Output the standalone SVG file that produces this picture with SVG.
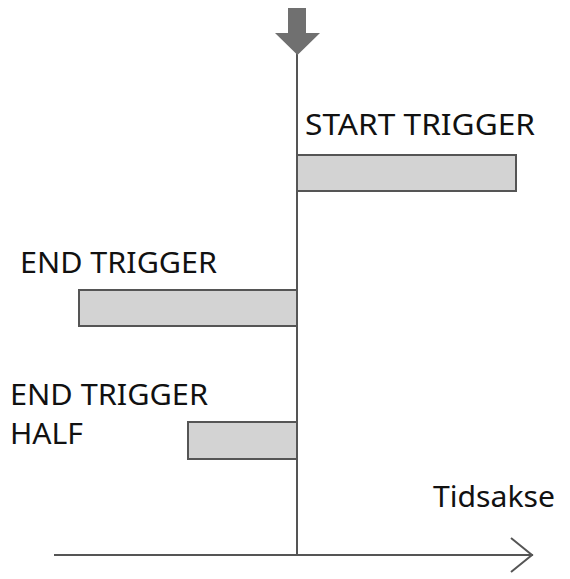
<svg xmlns="http://www.w3.org/2000/svg" width="570" height="579" viewBox="0 0 570 579">
<style>
.ln{stroke:#555;stroke-width:2;fill:none}
.bar{fill:#d3d3d3;stroke:#555;stroke-width:2}
.t{font-family:"Noto Sans","Open Sans",sans-serif;font-size:29px;fill:#111}
</style>
<rect width="570" height="579" fill="#fff"/>
<g id="connectors">
<line class="ln" x1="297" y1="50" x2="297" y2="556"/>
<line class="ln" x1="54" y1="555" x2="533" y2="555"/>
<polyline class="ln" points="511,538 532,555 511,572"/>
<polygon id="trigger-arrow" points="288,8 306,8 306,33 320,33 297.5,55 275,33 288,33" fill="#707070"/>
</g>
<g id="start-trigger">
<rect class="bar" x="297" y="155" width="219" height="36"/>
<text class="t" x="305" y="135" textLength="230" lengthAdjust="spacingAndGlyphs">START TRIGGER</text>
</g>
<g id="end-trigger">
<rect class="bar" x="79" y="290" width="218" height="36"/>
<text class="t" x="20" y="273" textLength="197" lengthAdjust="spacingAndGlyphs">END TRIGGER</text>
</g>
<g id="end-trigger-half">
<rect class="bar" x="188" y="422" width="109" height="37"/>
<text class="t" x="10" y="405" textLength="198" lengthAdjust="spacingAndGlyphs">END TRIGGER</text>
<text class="t" x="10" y="444" textLength="73" lengthAdjust="spacingAndGlyphs">HALF</text>
</g>
<g id="axis-label">
<text class="t" x="433" y="507" textLength="122" lengthAdjust="spacingAndGlyphs">Tidsakse</text>
</g>
</svg>
